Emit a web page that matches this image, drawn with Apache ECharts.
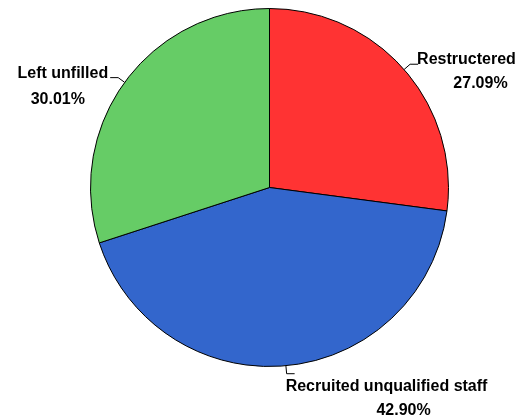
<!DOCTYPE html>
<html>
<head>
<meta charset="utf-8">
<style>
  html, body { margin: 0; padding: 0; background: #ffffff; }
  #chart { width: 518px; height: 417px; }
</style>
<script src="https://cdn.jsdelivr.net/npm/echarts@6/dist/echarts.min.js"></script>
</head>
<body>
<div id="chart"></div>
<script>
// Share of vacant positions by how they were handled (%)
const categories = ['Restructered', 'Recruited unqualified staff', 'Left unfilled'];
const shares = [27.09, 42.90, 30.01];
const colors = ['#ff3333', '#3366cc', '#66cc66'];

// label nudges [dx, dy] and horizontal shift of the percentage line, per slice
const labelNudge = [[-1, 7], [-9, 25], [-2, 10]];
const pctShift = [28, 34, -10];
const pctLineHeight = [24, 24, 28];

const chart = echarts.init(document.getElementById('chart'), null, { renderer: 'canvas' });

const font = { fontFamily: 'Liberation Sans, Arial, sans-serif', fontWeight: 'bold', fontSize: 16, color: '#000', lineHeight: 24, align: 'center' };

const data = categories.map((name, i) => ({
  name: name,
  value: shares[i],
  itemStyle: { color: colors[i] },
  label: {
    rich: {
      n: Object.assign({}, font),
      v: Object.assign({}, font, {
        padding: [0, Math.max(0, -pctShift[i]), 0, Math.max(0, pctShift[i])],
        lineHeight: pctLineHeight[i]
      })
    }
  }
}));

chart.setOption({
  animation: false,
  backgroundColor: '#ffffff',
  series: [{
    type: 'pie',
    center: [269.5, 187.5],
    radius: [0, 179],
    startAngle: 90,
    clockwise: true,
    avoidLabelOverlap: false,
    data: data,
    itemStyle: { borderColor: '#000000', borderWidth: 1 },
    label: {
      show: true,
      position: 'outside',
      distanceToLabelLine: 0,
      align: 'center',
      formatter: p => '{n|' + p.name + '}\n{v|' + p.value.toFixed(2) + '%}',
      rich: { n: font, v: font }
    },
    labelLine: {
      show: true,
      length: 8,
      length2: 8,
      lineStyle: { color: '#000', width: 1 }
    },
    labelLayout: p => ({ dx: labelNudge[p.dataIndex][0], dy: labelNudge[p.dataIndex][1] })
  }]
});
</script>
</body>
</html>
